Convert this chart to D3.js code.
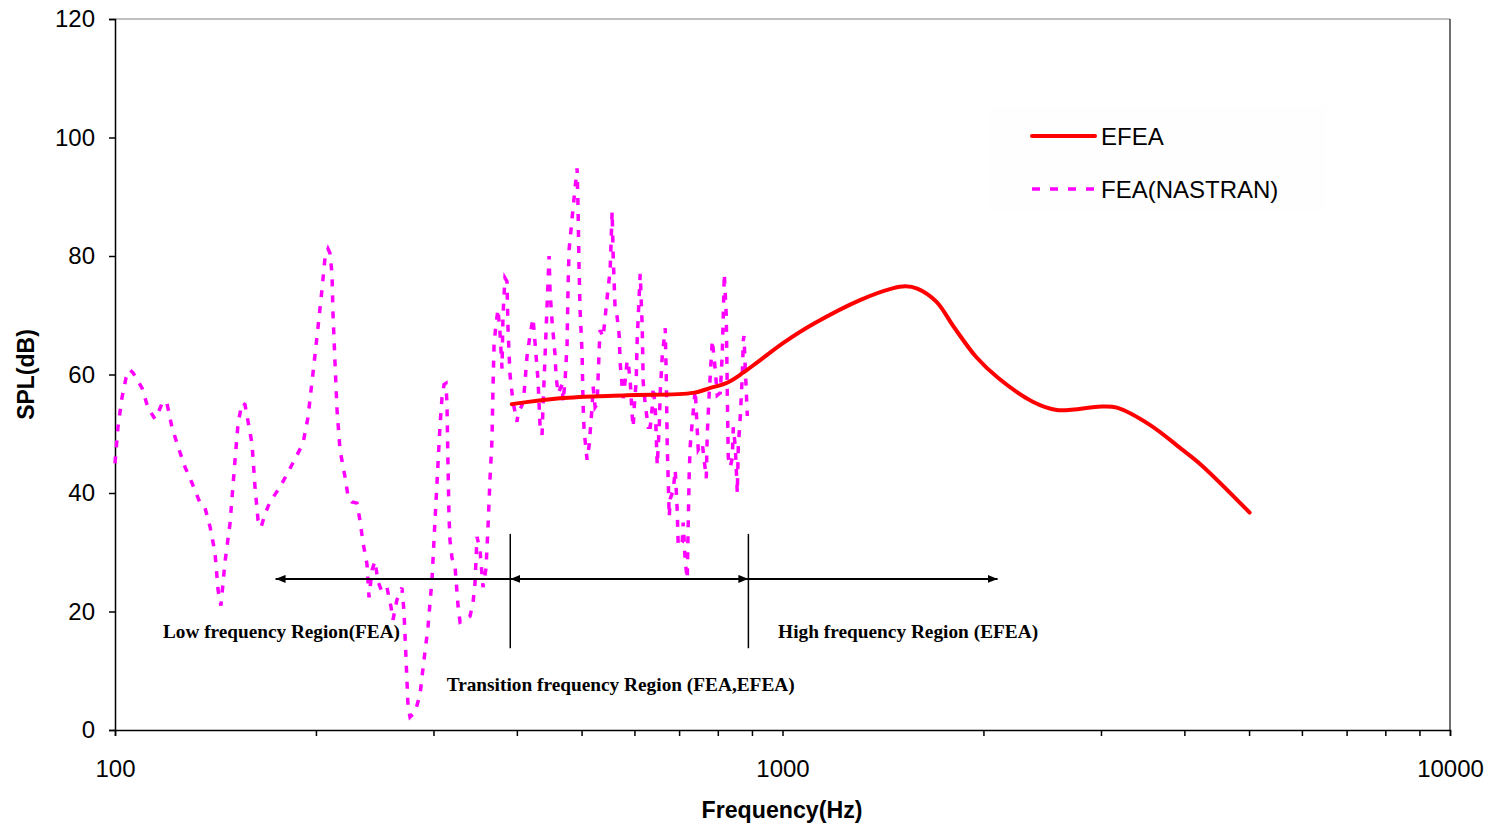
<!DOCTYPE html>
<html>
<head>
<meta charset="utf-8">
<script src="https://cdn.jsdelivr.net/npm/d3@7"></script>
<style>
  body { margin: 0; background: #fff; }
  svg { display: block; }
  .axis path, .axis line { stroke: #000; stroke-width: 1.5; }
  .axis text { font-family: "Liberation Sans", Arial, sans-serif; font-size: 24px; fill: #000; }
  .title { font-family: "Liberation Sans", Arial, sans-serif; font-size: 23px; font-weight: bold; }
  .note { font-family: "Liberation Serif", "Times New Roman", serif; font-size: 19px; font-weight: bold; }
  .legend text { font-family: "Liberation Sans", Arial, sans-serif; font-size: 24px; }
</style>
</head>
<body>
<svg id="chart" width="1489" height="824"></svg>
<script>
// EFEA prediction (Hz, dB)
const efeaFreq = [393, 464, 585, 735, 778, 826, 873, 925, 1008, 1115, 1309, 1457, 1528, 1592, 1700,
  1804, 1949, 2105, 2371, 2576, 3006, 3170, 3551, 3952, 4243, 5010];
const efeaSpl = [55.0, 56.0, 56.5, 56.9, 57.7, 58.6, 60.3, 62.4, 65.5, 68.6, 72.6, 74.5, 74.9, 74.5, 72.3,
  68.1, 63.0, 59.4, 55.4, 54.0, 54.6, 54.4, 51.5, 47.5, 44.7, 36.7];

// FEA (NASTRAN) response
const feaFreq = [100.0, 101.0, 102.4, 103.9, 105.3, 106.4, 109.8, 112.1, 114.8, 116.0, 118.0, 119.6, 121.7,
  124.3, 127.3, 130.4, 134.1, 136.4, 138.8, 141.2, 142.7, 144.1, 146.1, 148.7, 151.3, 152.9, 155.0, 156.6,
  160.4, 162.1, 163.8, 165.5, 167.8, 170.7, 176.7, 184.8, 191.3, 194.6, 198.0, 200.7, 204.2, 206.4, 208.5,
  209.9, 211.4, 212.1, 213.6, 215.1, 217.3, 221.1, 223.4, 226.5, 230.4, 232.8, 235.3, 238.5, 240.2, 242.7,
  245.2, 247.8, 251.2, 255.6, 259.1, 260.9, 264.5, 269.1, 271.0, 272.9, 274.8, 276.7, 281.5, 286.4, 289.4,
  294.4, 298.5, 301.6, 304.7, 306.8, 308.9, 311.1, 313.2, 314.3, 315.4, 316.5, 317.6, 319.8, 323.1, 326.5,
  328.8, 334.5, 340.3, 343.8, 346.2, 348.6, 352.2, 355.9, 359.6, 362.1, 364.6, 367.1, 368.4, 369.7, 372.2,
  374.8, 377.4, 380.0, 381.3, 383.9, 386.6, 387.9, 390.6, 394.7, 400.2, 401.6, 407.1, 410.0, 414.2, 418.5,
  422.9, 425.8, 430.3, 433.3, 436.3, 437.8, 440.8, 443.9, 447.0, 448.5, 451.6, 456.3, 457.9, 461.1, 467.5,
  469.1, 472.3, 475.6, 477.3, 478.9, 485.5, 492.3, 494.0, 495.7, 497.4, 500.9, 502.6, 504.4, 509.6, 513.2,
  518.5, 520.3, 523.9, 527.5, 531.2, 533.0, 538.6, 542.4, 546.1, 551.8, 555.6, 557.6, 561.4, 565.3, 569.2,
  571.2, 575.2, 577.2, 581.2, 585.2, 587.2, 591.3, 595.4, 597.5, 599.6, 603.7, 605.8, 610.0, 612.1, 616.4,
  618.5, 622.8, 629.3, 633.6, 638.0, 640.2, 644.7, 649.1, 653.6, 655.9, 660.4, 667.3, 669.6, 671.9, 674.2,
  676.6, 678.9, 686.0, 690.7, 695.5, 697.9, 707.6, 710.0, 715.0, 719.9, 722.4, 724.9, 727.4, 732.5, 740.1,
  745.2, 747.8, 758.2, 768.8, 771.4, 776.8, 784.9, 793.0, 798.5, 806.8, 812.4, 815.2, 818.1, 823.7, 826.6,
  829.4, 835.2, 841.0, 843.9, 849.8, 855.6, 858.6, 864.6, 870.6, 873.6, 875.7, 878.7, 882.7, 885.7];
const feaSpl = [45, 51, 56, 59.5, 60.8, 60.3, 57.7, 54.3, 52.5, 53.5, 55.5, 55.2, 51.1,
  47.8, 44.4, 41.7, 38.3, 37.5, 34.3, 29.9, 23.6, 21.0, 28.2, 34.9, 45.6, 51.8, 55.2, 54.9,
  48.4, 41.0, 35.4, 34.2, 36.5, 38.5, 41.0, 45.1, 48.4, 52.8, 60.3, 66.3, 74.3, 79.8, 81.2,
  80.5, 77.0, 70.4, 62.0, 54.0, 47.3, 42.7, 39.5, 38.5, 38.3, 35.4, 31.6, 28.0, 22.4, 27.0,
  28.5, 25.0, 23.3, 24.0, 20.8, 18.6, 22.0, 24.0, 20.0, 12.0, 4.0, 2.2, 3.0, 6.0, 10.5,
  17.4, 25.5, 35.4, 44.9, 51.3, 56.0, 58.3, 58.5, 55.0, 45.0, 36.0, 32.0, 29.0, 27.7, 21.0,
  18.2, 18.6, 19.2, 21.4, 24.8, 32.6, 30.4, 24.1, 27.3, 34.3, 42.4, 49.0, 58.0, 65.0, 68.5,
  71.0, 67.0, 61.0, 70.0, 76.3, 75.7, 68.0, 60.0, 55.4, 52.0, 53.5, 54.8, 56.7, 63.0, 66.6,
  69.5, 65.5, 59.0, 51.3, 49.8, 54.8, 63.0, 71.6, 80.0, 74.0, 69.0, 63.3, 59.7, 56.8, 58.3,
  55.4, 58.9, 65.0, 75.0, 81.0, 88.0, 94.8, 88.0, 78.0, 71.0, 63.6, 55.0, 50.6, 45.6, 48.0,
  54.5, 58.0, 54.5, 55.0, 64.0, 67.5, 66.3, 69.7, 73.0, 77.6, 87.5, 80.0, 71.0, 69.7, 66.7,
  62.0, 57.9, 56.0, 59.0, 62.4, 62.0, 59.0, 53.0, 51.1, 54.5, 59.0, 66.0, 73.4, 77.0, 68.0,
  58.7, 55.0, 51.1, 51.1, 54.5, 57.9, 54.5, 44.7, 51.0, 57.0, 63.0, 67.8, 60.0, 48.0, 42.2,
  36.0, 39.0, 40.5, 43.9, 37.0, 31.0, 31.7, 35.0, 28.4, 25.5, 35.0, 43.5, 48.0, 52.0, 57.4,
  50.6, 47.3, 48.4, 42.5, 50.0, 57.0, 65.8, 60.8, 56.5, 56.9, 63.6, 70.0, 77.0, 70.0, 57.0,
  46.0, 44.4, 45.9, 51.1, 47.8, 40.0, 47.8, 53.0, 60.0, 65.8, 66.5, 62.0, 57.0, 53.0];

const yTicks = [0, 20, 40, 60, 80, 100, 120];
const xLabels = [100, 1000, 10000];

// region annotation (Hz, dB)
const regionEdges = [174, 391, 889, 2100];
const regionArrowSpl = 25.5;
const regionBarSpl = [13.8, 33.1];
const regionNotes = [
  { text: "Low frequency Region(FEA)", f: 118, v: 15.5, w: 237 },
  { text: "Transition frequency Region (FEA,EFEA)", f: 314, v: 6.6, w: 348 },
  { text: "High frequency Region (EFEA)", f: 985, v: 15.5, w: 260 }
];

const svg = d3.select('#chart');
const plotLeft = 115, plotRight = 1450, plotTop = 19, plotBottom = 730;

const x = d3.scaleLog().domain([100, 10000]).range([plotLeft, plotRight]);
const y = d3.scaleLinear().domain([0, 120]).range([plotBottom, plotTop]);

// plot frame (top and right)
svg.append('line').attr('x1', plotLeft).attr('x2', plotRight).attr('y1', plotTop).attr('y2', plotTop)
  .attr('stroke', '#808080').attr('stroke-width', 1);
svg.append('line').attr('x1', plotRight).attr('x2', plotRight).attr('y1', plotTop).attr('y2', plotBottom)
  .attr('stroke', '#404040').attr('stroke-width', 1.5);

// axes
const xAxis = d3.axisBottom(x)
  .tickValues(x.ticks())
  .tickSize(6)
  .tickPadding(24)
  .tickFormat(d => xLabels.includes(d) ? String(d) : '');
svg.append('g').attr('class', 'axis')
  .attr('transform', `translate(0,${plotBottom})`)
  .call(xAxis);

const yAxis = d3.axisLeft(y)
  .tickValues(yTicks)
  .tickSize(6)
  .tickPadding(14)
  .tickFormat(d3.format('d'));
svg.append('g').attr('class', 'axis')
  .attr('transform', `translate(${plotLeft},0)`)
  .call(yAxis);

// axis titles
svg.append('text').attr('class', 'title')
  .attr('x', 782).attr('y', 818)
  .attr('text-anchor', 'middle')
  .attr('textLength', 161).attr('lengthAdjust', 'spacingAndGlyphs')
  .text('Frequency(Hz)');
svg.append('text').attr('class', 'title')
  .attr('transform', `translate(34,${(plotTop + plotBottom) / 2}) rotate(-90)`)
  .attr('text-anchor', 'middle')
  .text('SPL(dB)');

// curves
const fea = feaFreq.map((f, i) => [f, feaSpl[i]]);
const efea = efeaFreq.map((f, i) => [f, efeaSpl[i]]);

const line = d3.line().x(d => x(d[0])).y(d => y(d[1]));

svg.append('path')
  .datum(fea)
  .attr('fill', 'none')
  .attr('stroke', '#ff00ff')
  .attr('stroke-width', 3.5)
  .attr('stroke-dasharray', '7,9')
  .attr('d', line);

svg.append('path')
  .datum(efea)
  .attr('fill', 'none')
  .attr('stroke', '#ff0000')
  .attr('stroke-width', 4)
  .attr('stroke-linecap', 'round')
  .attr('d', line.curve(d3.curveCatmullRom.alpha(0.5)));

// arrow markers
const defs = svg.append('defs');
defs.append('marker').attr('id', 'head')
  .attr('viewBox', '0 0 10 8').attr('refX', 10).attr('refY', 4)
  .attr('markerWidth', 10).attr('markerHeight', 8)
  .attr('markerUnits', 'userSpaceOnUse')
  .attr('orient', 'auto-start-reverse')
  .append('path').attr('d', 'M0,0L10,4L0,8Z').attr('fill', '#000');

const ay = y(regionArrowSpl);
const arrows = [
  { a: regionEdges[0], b: regionEdges[1], start: true, end: false },
  { a: regionEdges[1], b: regionEdges[2], start: true, end: true },
  { a: regionEdges[2], b: regionEdges[3], start: false, end: true }
];
arrows.forEach(d => {
  svg.append('line')
    .attr('x1', x(d.a)).attr('x2', x(d.b)).attr('y1', ay).attr('y2', ay)
    .attr('stroke', '#000').attr('stroke-width', 2)
    .attr('marker-start', d.start ? 'url(#head)' : null)
    .attr('marker-end', d.end ? 'url(#head)' : null);
});
[regionEdges[1], regionEdges[2]].forEach(f => {
  svg.append('line')
    .attr('x1', x(f)).attr('x2', x(f))
    .attr('y1', y(regionBarSpl[1])).attr('y2', y(regionBarSpl[0]))
    .attr('stroke', '#000').attr('stroke-width', 1.5);
});

svg.selectAll('.note').data(regionNotes).enter()
  .append('text').attr('class', 'note')
  .attr('x', d => x(d.f)).attr('y', d => y(d.v))
  .attr('textLength', d => d.w).attr('lengthAdjust', 'spacingAndGlyphs')
  .text(d => d.text);

// legend
const legend = svg.append('g').attr('class', 'legend');
legend.append('rect').attr('x', 990).attr('y', 106).attr('width', 336).attr('height', 104)
  .attr('fill', '#fefefe');
const items = [
  { name: 'EFEA', color: '#ff0000', dash: null, w: 4, yy: 136 },
  { name: 'FEA(NASTRAN)', color: '#ff00ff', dash: '8,10', w: 3.5, yy: 189 }
];
items.forEach(d => {
  legend.append('line').attr('x1', 1032).attr('x2', 1095).attr('y1', d.yy).attr('y2', d.yy)
    .attr('stroke', d.color).attr('stroke-width', d.w)
    .attr('stroke-dasharray', d.dash)
    .attr('stroke-linecap', d.dash ? 'butt' : 'round');
  legend.append('text').attr('x', 1101).attr('y', d.yy + 9).text(d.name);
});
</script>
</body>
</html>
